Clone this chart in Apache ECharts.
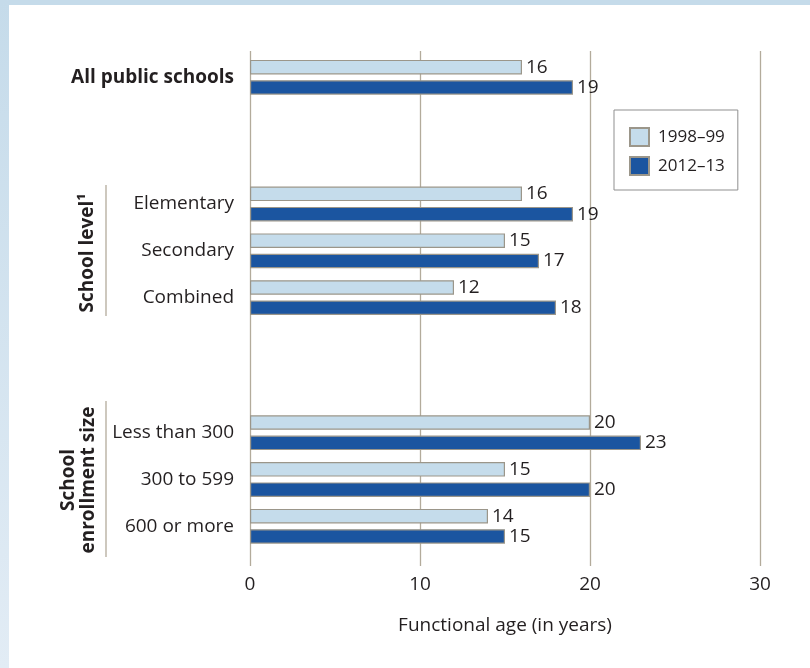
<!DOCTYPE html>
<html><head><meta charset="utf-8">
<script src="https://cdn.jsdelivr.net/npm/echarts@6/dist/echarts.min.js"></script>
<style>html,body{margin:0;padding:0;background:#fff}#chart{width:810px;height:668px}</style>
</head><body><div id="chart"></div>
<script>
// ---- data ----
const catsAll = ['All public schools'];
const catsLevel = ['Elementary', 'Secondary', 'Combined'];
const catsSize = ['Less than 300', '300 to 599', '600 or more'];
const s1998All = [16];
const s2012All = [19];
const s1998Level = [16, 15, 12];
const s2012Level = [19, 17, 18];
const s1998Size = [20, 15, 14];
const s2012Size = [23, 20, 15];
const seriesNames = ['1998\u201399', '2012\u201313'];
const xTicks = [0, 10, 20, 30];
const axisTitle = 'Functional age (in years)';
const groupLevel = 'School level\u00B9';
const groupSize = 'School\nenrollment size';

// ---- styles ----
const FONT = 'Open Sans';
const TXT = '#231f20';
const GRIDC = '#b3ab9b';
const LIGHT = '#c5dceb';
const DARK = '#1b55a0';
const BORDER = '#9b968a';
const LEFT = 250, RIGHT = 50;
const band = 46.8;

const chart = echarts.init(document.getElementById('chart'));

function yCat(idx, data, bold) {
  return {
    type: 'category', gridIndex: idx, data: data, inverse: true,
    axisLine: {show: false}, axisTick: {show: false}, splitLine: {show: false},
    axisLabel: {margin: 16, fontSize: 19, fontFamily: FONT, color: TXT, fontWeight: bold ? 'bold' : 'normal'}
  };
}
function xHidden(idx) {
  return {type: 'value', gridIndex: idx, min: xTicks[0], max: xTicks[xTicks.length - 1], interval: 10, show: false};
}
function bar(name, data, idx, color) {
  return {
    type: 'bar', name: name, data: data, xAxisIndex: idx, yAxisIndex: idx,
    barWidth: 14.5, barGap: '40%',
    itemStyle: {color: color, borderColor: BORDER, borderWidth: 1.2},
    label: {show: true, position: 'right', distance: 4, fontSize: 19, fontFamily: FONT, color: TXT},
    emphasis: {disabled: true}, animation: false
  };
}

const option = {
  backgroundColor: '#fff',
  animation: false,
  grid: [
    {left: LEFT, right: RIGHT, top: 51, bottom: 102},
    {left: LEFT, right: RIGHT, top: 77.3 - band / 2, height: band},
    {left: LEFT, right: RIGHT, top: 204 - band / 2, height: band * 3},
    {left: LEFT, right: RIGHT, top: 432.7 - band / 2, height: band * 3}
  ],
  xAxis: [
    {
      type: 'value', gridIndex: 0, min: xTicks[0], max: xTicks[xTicks.length - 1], interval: 10,
      axisLine: {show: false}, axisTick: {show: false},
      splitLine: {show: true, showMinLine: true, showMaxLine: true, lineStyle: {color: GRIDC, width: 1.3}},
      axisLabel: {margin: 9, fontSize: 19, fontFamily: FONT, color: TXT},
      name: axisTitle, nameLocation: 'middle', nameGap: 50,
      nameTextStyle: {fontSize: 19, fontFamily: FONT, color: TXT}
    },
    xHidden(1), xHidden(2), xHidden(3)
  ],
  yAxis: [
    {type: 'value', gridIndex: 0, show: false},
    yCat(1, catsAll, true), yCat(2, catsLevel, false), yCat(3, catsSize, false)
  ],
  legend: {
    data: seriesNames, orient: 'vertical', left: 614, top: 110,
    width: 123,
    padding: [17, 13, 14, 15],
    itemWidth: 19, itemHeight: 18, itemGap: 9,
    borderColor: '#8f8f8f', borderWidth: 1,
    icon: 'rect',
    textStyle: {fontSize: 17, fontFamily: FONT, color: TXT, padding: [0, 0, 0, 4]},
    selectedMode: false
  },
  series: [
    bar(seriesNames[0], s1998All, 1, LIGHT), bar(seriesNames[1], s2012All, 1, DARK),
    bar(seriesNames[0], s1998Level, 2, LIGHT), bar(seriesNames[1], s2012Level, 2, DARK),
    bar(seriesNames[0], s1998Size, 3, LIGHT), bar(seriesNames[1], s2012Size, 3, DARK)
  ],
  graphic: [
    {type: 'rect', z: -10, shape: {x: 0, y: 0, width: 810, height: 5}, style: {fill: '#c5dbea'}},
    {type: 'rect', z: -10, shape: {x: 0, y: 0, width: 9, height: 668},
     style: {fill: new echarts.graphic.LinearGradient(0, 0, 0, 1, [{offset: 0, color: '#c5dbea'}, {offset: 1, color: '#e2ecf5'}])}},
    {type: 'line', shape: {x1: 106, y1: 185, x2: 106, y2: 316}, style: {stroke: GRIDC, lineWidth: 1.3}},
    {type: 'line', shape: {x1: 106, y1: 401, x2: 106, y2: 557}, style: {stroke: GRIDC, lineWidth: 1.3}},
    {type: 'text', x: 88, y: 253, rotation: Math.PI / 2,
     style: {text: groupLevel, fontSize: 19, fontWeight: 'bold', fontFamily: FONT, fill: TXT, align: 'center', verticalAlign: 'middle'}},
    {type: 'text', x: 79, y: 480, rotation: Math.PI / 2,
     style: {text: groupSize, fontSize: 19, lineHeight: 20, fontWeight: 'bold', fontFamily: FONT, fill: TXT, align: 'center', verticalAlign: 'middle'}}
  ]
};
chart.setOption(option);
</script></body></html>
